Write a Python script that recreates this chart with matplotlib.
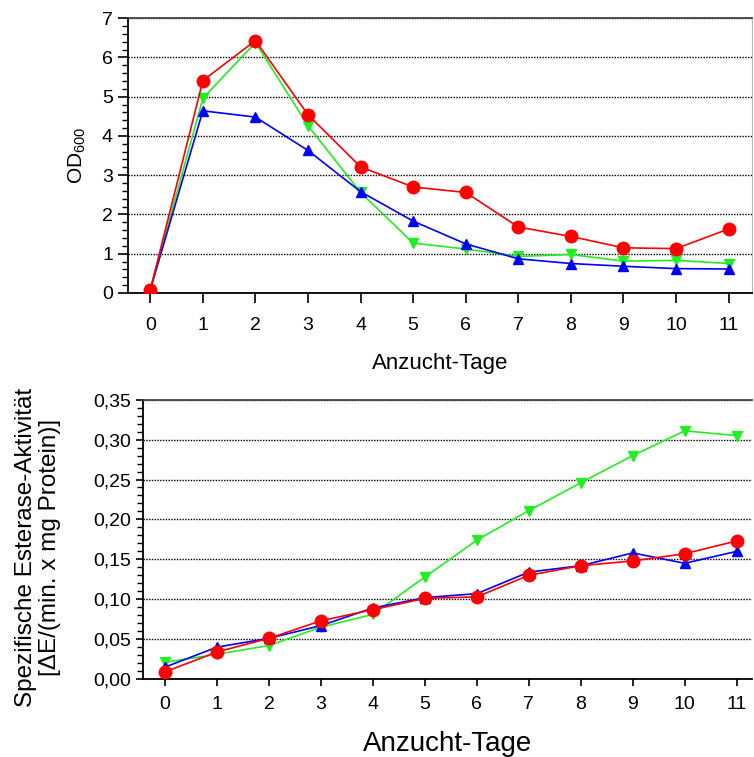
import numpy as np
import matplotlib
matplotlib.use("Agg")
import matplotlib.pyplot as plt
from matplotlib.ticker import MultipleLocator, FuncFormatter

plt.rcParams['font.family'] = ['Liberation Sans', 'DejaVu Sans']
plt.rcParams['mathtext.default'] = 'regular'

# Data
tage = list(range(12))

od_red = [0.08, 5.41, 6.43, 4.54, 3.21, 2.70, 2.56, 1.68, 1.44, 1.15, 1.13, 1.63]
od_green = [0.08, 4.96, 6.38, 4.26, 2.56, 1.27, 1.12, 0.93, 0.98, 0.81, 0.83, 0.75]
od_blue = [0.08, 4.64, 4.48, 3.63, 2.58, 1.83, 1.25, 0.87, 0.75, 0.68, 0.62, 0.61]

est_red = [0.009, 0.034, 0.051, 0.073, 0.087, 0.101, 0.103, 0.130, 0.142, 0.148, 0.157, 0.173]
est_green = [0.021, 0.031, 0.042, 0.065, 0.081, 0.128, 0.174, 0.211, 0.246, 0.280, 0.311, 0.305]
est_blue = [0.015, 0.040, 0.051, 0.067, 0.089, 0.102, 0.107, 0.134, 0.142, 0.158, 0.145, 0.160]

RED = '#ff0000'
GREEN = '#22ee22'
BLUE = '#0000ff'

fig = plt.figure(figsize=(7.54, 7.57), dpi=100)
ax1 = fig.add_axes([0.170, 0.613, 0.827, 0.363])
ax2 = fig.add_axes([0.190, 0.103, 0.807, 0.369])


def style(ax, tick_len, tick_pad):
    ax.spines['left'].set_linewidth(1.3)
    ax.spines['bottom'].set_linewidth(1.3)
    ax.spines['top'].set_color('#444444')
    ax.spines['top'].set_linewidth(1.3)
    ax.spines['right'].set_color('#bbbbbb')
    ax.spines['right'].set_linewidth(0.8)
    ax.tick_params(axis='both', which='major', direction='out', length=tick_len,
                   width=1.2, labelsize=14, top=False, right=False)
    ax.tick_params(axis='x', pad=tick_pad)
    ax.tick_params(axis='y', pad=4)
    ax.tick_params(axis='y', which='minor', direction='out', length=4, width=1)
    ax.tick_params(axis='x', which='minor', bottom=False)
    ax.set_xticks(tage)
    ax.grid(True, axis='y', linestyle=(0, (1, 1)), color='black', linewidth=1)
    ax.set_axisbelow(True)


def draw(ax, r, g, b):
    ax.plot(tage, g, color=GREEN, marker='v', markersize=7, linewidth=1.2, zorder=3)
    ax.plot(tage, b, color=BLUE, marker='^', markersize=7, linewidth=1.2, zorder=4)
    ax.plot(tage, r, color=RED, marker='o', markersize=9, linewidth=1.2, zorder=5)


draw(ax1, od_red, od_green, od_blue)
style(ax1, 7, 10)
ax1.set_xlim(-0.42, 11.44)
ax1.set_ylim(0, 7)
ax1.yaxis.set_major_locator(MultipleLocator(1))
ax1.yaxis.set_minor_locator(MultipleLocator(0.2))
ax1.set_ylabel('OD$_{600}$', fontsize=15, labelpad=10)
ax1.set_xlabel('Anzucht-Tage', fontsize=16, labelpad=14)

draw(ax2, est_red, est_green, est_blue)
style(ax2, 5, 7)
ax2.spines['right'].set_visible(False)
ax2.set_xlim(-0.42, 11.29)
ax2.set_ylim(0, 0.35)
ax2.yaxis.set_major_locator(MultipleLocator(0.05))
ax2.yaxis.set_minor_locator(MultipleLocator(0.01))
ax2.yaxis.set_major_formatter(FuncFormatter(lambda v, p: f'{v:.2f}'.replace('.', ',')))
ax2.set_ylabel('Spezifische Esterase-Aktivität\n[ΔE/(min. x mg Protein)]',
               fontsize=17.5, linespacing=1.1)
ax2.yaxis.set_label_coords(-0.135, 0.47)
ax2.set_xlabel('Anzucht-Tage', fontsize=20, labelpad=13)

fig.savefig('out.png', dpi=100)
